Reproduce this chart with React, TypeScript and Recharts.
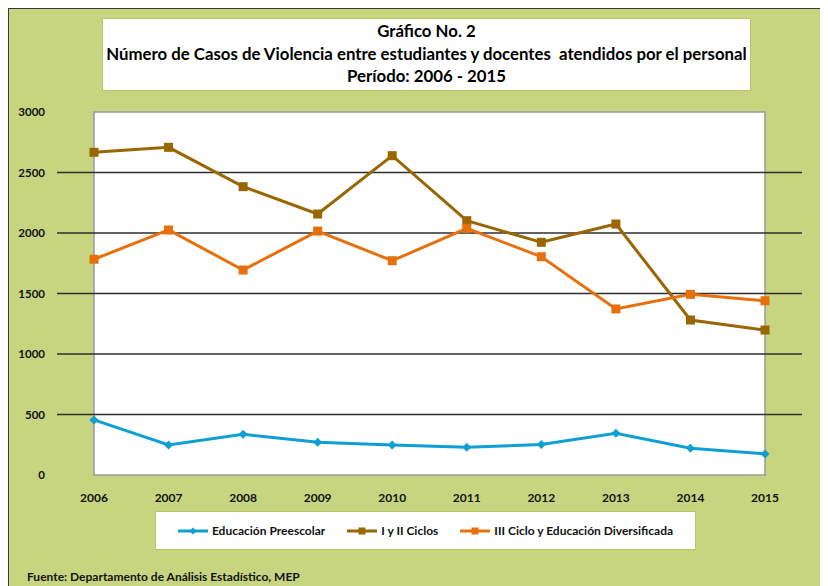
import {
  Line,
  LineChart,
  ReferenceArea,
  ReferenceLine,
  XAxis,
  YAxis,
} from "recharts";

const years = ["2006", "2007", "2008", "2009", "2010", "2011", "2012", "2013", "2014", "2015"];
const preescolar = [455, 248, 336, 270, 248, 229, 252, 345, 221, 174];
const ciclos12 = [2667, 2708, 2383, 2157, 2639, 2102, 1923, 2074, 1281, 1198];
const ciclo3 = [1783, 2025, 1694, 2016, 1771, 2039, 1804, 1372, 1493, 1440];
const yTicks = [0, 500, 1000, 1500, 2000, 2500, 3000];
const gridValues = [500, 1000, 1500, 2000, 2500];

const titleLines = [
  "Gráfico No. 2",
  "Número de Casos de Violencia entre estudiantes y docentes  atendidos por el personal",
  "Período: 2006 - 2015",
];
const source = "Fuente: Departamento de Análisis Estadístico, MEP";

const series = [
  { key: "pre", name: "Educación Preescolar", color: "#0f9fd3", shape: "diamond" },
  { key: "c12", name: "I y II Ciclos", color: "#996600", shape: "square" },
  { key: "c3", name: "III Ciclo y Educación Diversificada", color: "#e8700c", shape: "square" },
];

const data = years.map((y, i) => ({ year: y, pre: preescolar[i], c12: ciclos12[i], c3: ciclo3[i] }));

const FONT = "Lato, 'DejaVu Sans', sans-serif";

function marker(shape: string, color: string) {
  return (p: any) => {
    const { cx, cy, index } = p;
    if (cx == null || cy == null) return <g key={index} />;
    if (shape === "diamond") {
      const r = 4.5;
      return (
        <polygon
          key={index}
          points={`${cx},${cy - r} ${cx + r},${cy} ${cx},${cy + r} ${cx - r},${cy}`}
          fill={color}
        />
      );
    }
    return <rect key={index} x={cx - 4.5} y={cy - 4.5} width={9} height={9} fill={color} />;
  };
}

export default function App() {
  return (
    <div
      style={{
        position: "relative",
        width: 820,
        height: 578,
        background: "#c7d580",
        borderTop: "1px solid #3a3a3a",
        borderLeft: "1px solid #3a3a3a",
        boxSizing: "border-box",
        fontFamily: FONT,
      }}
    >
      <div
        style={{
          position: "absolute",
          left: 93,
          top: 9,
          width: 647,
          height: 70,
          background: "#fff",
          border: "1px solid #b3c866",
          textAlign: "center",
          fontWeight: 700,
          fontSize: 16.8,
          lineHeight: "22.5px",
          paddingTop: 1,
          color: "#000",
        }}
      >
        {titleLines.map((t) => (
          <div key={t} style={{ whiteSpace: "pre" }}>{t}</div>
        ))}
      </div>

      <div style={{ position: "absolute", left: -1, top: -1 }}>
        <LineChart width={820} height={578} data={data} margin={{ top: 104, right: 26, bottom: 81, left: 9 }}>
          <ReferenceArea y1={0} y2={3000} fill="#ffffff" fillOpacity={1} stroke="#9a9a9a" strokeWidth={1.5} />
          {gridValues.map((v) => (
            <ReferenceLine key={v} y={v} stroke="#2e2e2e" strokeWidth={1.5} />
          ))}
          <XAxis
            dataKey="year"
            axisLine={false}
            tickLine={false}
            tickMargin={12}
            height={30}
            padding={{ left: 37, right: 37 }}
            tick={{ fill: "#111", fontSize: 12, fontWeight: 700, fontFamily: FONT }}
          />
          <YAxis
            domain={[0, 3000]}
            ticks={yTicks}
            width={40}
            axisLine={false}
            tickLine={false}
            tickSize={0}
            tickMargin={12}
            tick={{ fill: "#111", fontSize: 11.5, fontWeight: 700, fontFamily: FONT }}
          />
          {series.map((s) => (
            <Line
              key={s.key}
              dataKey={s.key}
              stroke={s.color}
              strokeWidth={3}
              dot={marker(s.shape, s.color)}
              activeDot={false}
              isAnimationActive={false}
            />
          ))}
        </LineChart>
      </div>

      <div
        style={{
          position: "absolute",
          left: 146,
          top: 502,
          width: 539,
          height: 37,
          background: "#fff",
          border: "1px solid #b3c866",
          display: "flex",
          alignItems: "center",
          justifyContent: "center",
          gap: 22,
          fontSize: 12,
          fontWeight: 700,
          color: "#111",
        }}
      >
        {series.map((s) => (
          <div key={s.key} style={{ display: "flex", alignItems: "center", gap: 4 }}>
            <svg width={30} height={10}>
              <line x1={0} y1={5} x2={30} y2={5} stroke={s.color} strokeWidth={3} />
              {s.shape === "diamond" ? (
                <polygon points="15,1.5 18.5,5 15,8.5 11.5,5" fill={s.color} />
              ) : (
                <rect x={11.5} y={1.5} width={7} height={7} fill={s.color} />
              )}
            </svg>
            <span>{s.name}</span>
          </div>
        ))}
      </div>

      <div
        style={{
          position: "absolute",
          left: 18,
          top: 560,
          fontSize: 12,
          fontWeight: 700,
          color: "#111",
        }}
      >
        {source}
      </div>
    </div>
  );
}
